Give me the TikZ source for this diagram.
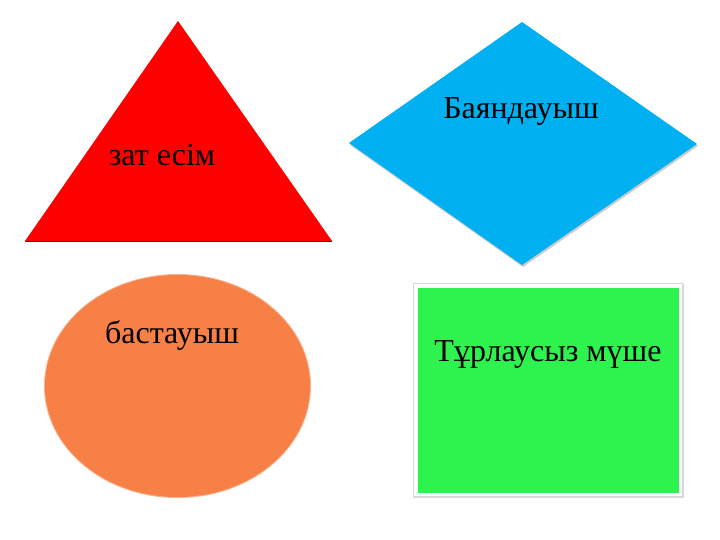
\documentclass[tikz,border=0pt]{standalone}
\usepackage{fontspec}
\setmainfont{Liberation Serif}
\definecolor{trired}{RGB}{255,0,0}
\definecolor{tribase}{RGB}{120,20,10}
\definecolor{diablue}{RGB}{0,176,240}
\definecolor{ellorange}{RGB}{247,128,70}
\definecolor{recgreen}{RGB}{46,242,78}

\begin{document}
\begin{tikzpicture}[x=1pt,y=-1pt,
  word/.style={font=\fontsize{32}{38}\selectfont,text=black,inner sep=0pt,anchor=base}
]
\useasboundingbox (0,0) rectangle (720,540);
% triangle
\fill[trired] (25,241) -- (178,21) -- (332,241) -- cycle;
\draw[line width=1.5pt,tribase] (25,241.5) -- (332,241.5);
\node[word] (zat) at (162,166) {зат есім};
% diamond
\fill[gray!40] (350,145) -- (523,24) -- (698,146) -- (523,267) -- cycle;
\fill[diablue] (349,143) -- (522,22) -- (697,144) -- (522,265) -- cycle;
\node[word] (bayan) at (521,119) {Баяндауыш};
% ellipse
\fill[ellorange!60] (177.5,386) ellipse [x radius=133.5,y radius=112];
\fill[ellorange] (177.5,386) ellipse [x radius=132.5,y radius=111];
\node[word] (bastau) at (172,343) {бастауыш};
% rectangle
\fill[gray!30] (413,283) rectangle (684,498);
\fill[white] (414,284) rectangle (682,496);
\fill[recgreen] (418,288) rectangle (679,493);
\node[word] (turlau) at (548,361) {Тұрлаусыз мүше};
\end{tikzpicture}
\end{document}
